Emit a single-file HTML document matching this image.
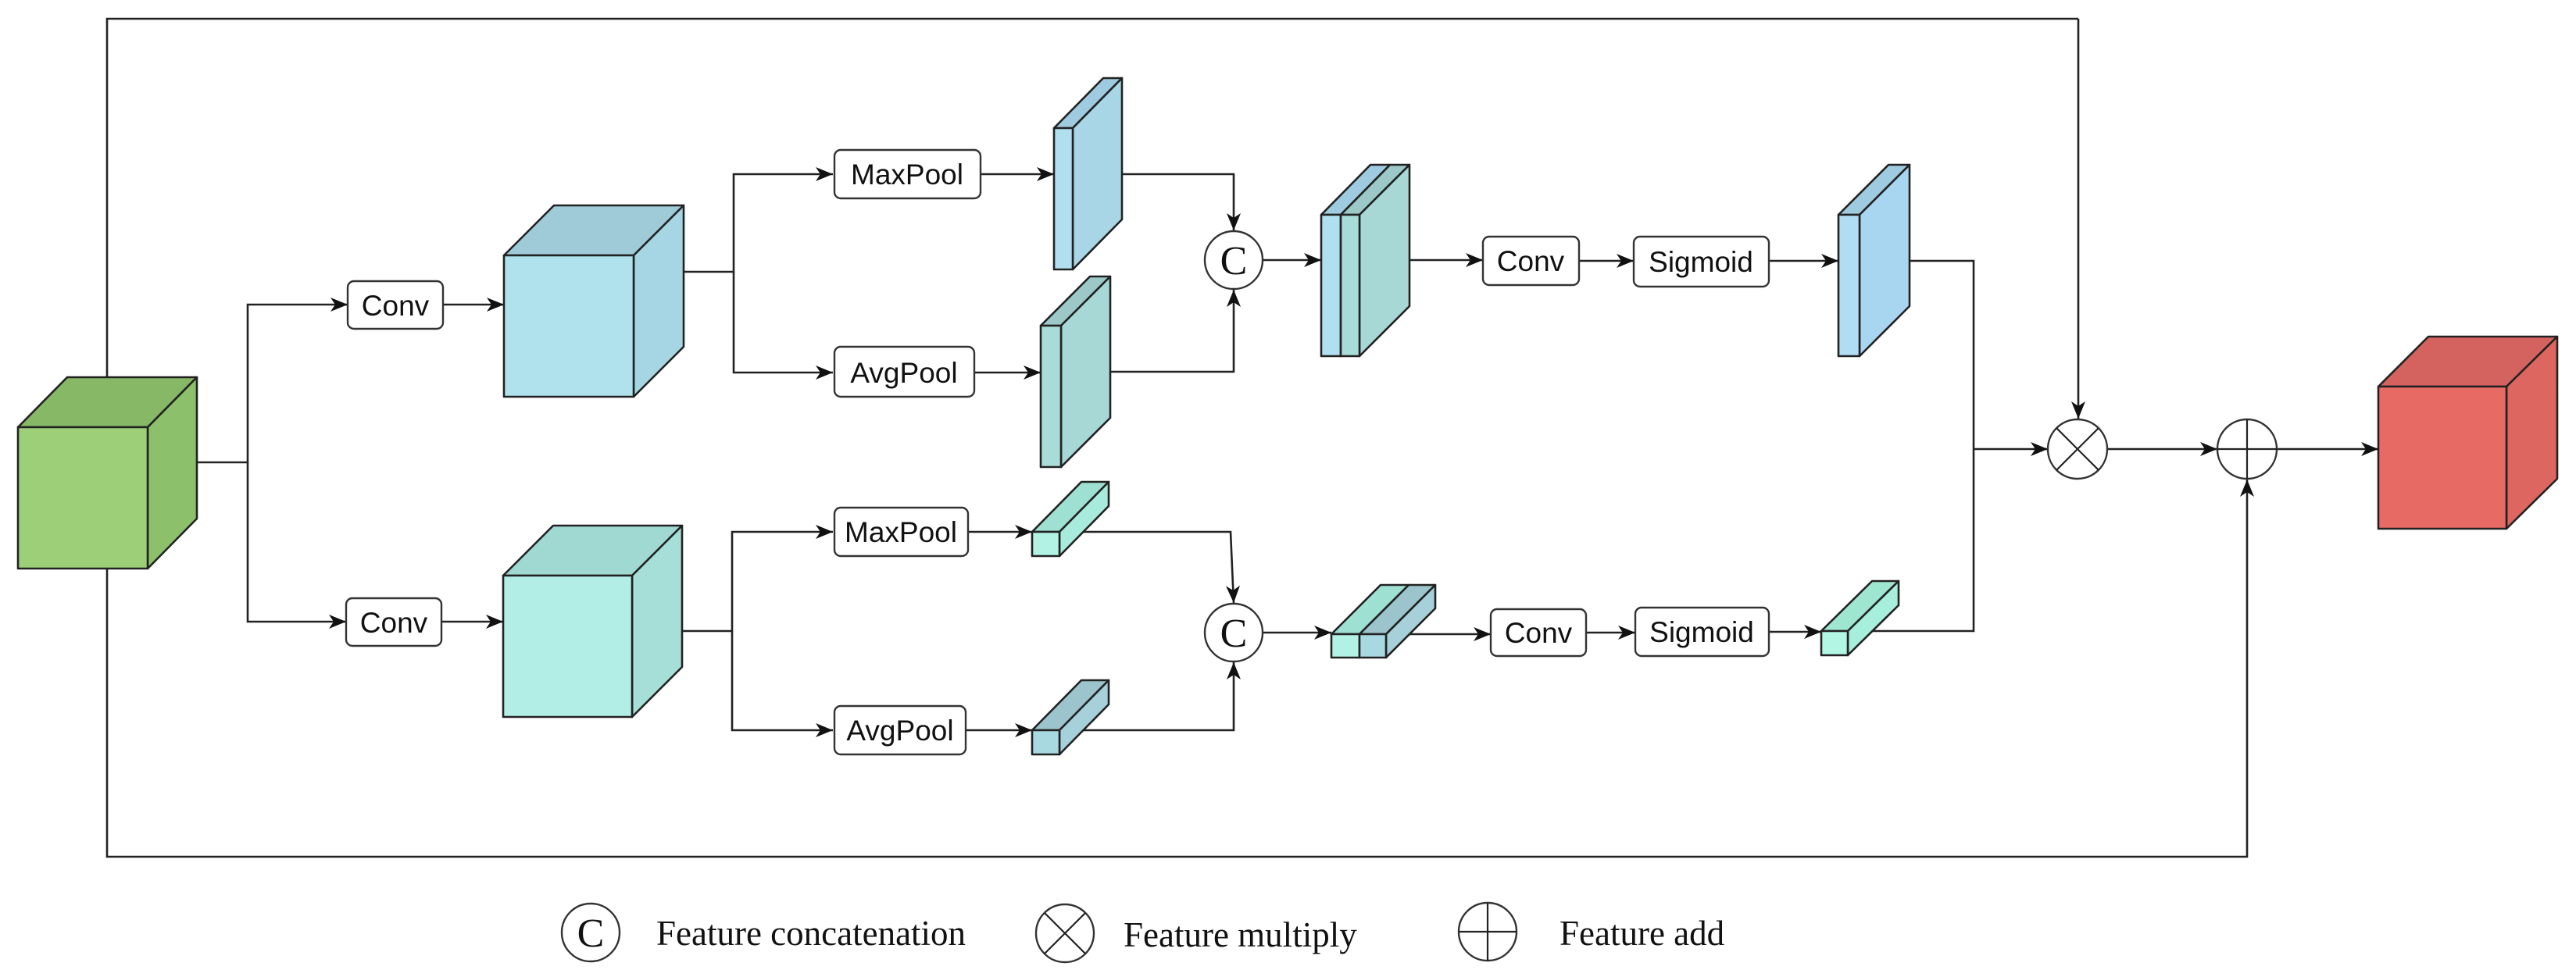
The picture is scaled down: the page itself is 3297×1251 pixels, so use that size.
<!DOCTYPE html>
<html><head><meta charset="utf-8"><style>
html,body{margin:0;padding:0;background:#fff;}
svg{display:block;}
.b{font-family:"Liberation Sans",sans-serif;font-size:37px;fill:#111;}
.l{font-family:"Liberation Serif",serif;font-size:45px;fill:#111;}
</style></head><body>
<svg width="3297" height="1251" viewBox="0 0 3297 1251" xmlns="http://www.w3.org/2000/svg">
<defs>
<marker id="a" markerUnits="userSpaceOnUse" markerWidth="24" markerHeight="20" refX="22" refY="10" orient="auto">
<path d="M0,1 L22,10 L0,19 L6,10 Z" fill="#111"/>
</marker>
</defs>
<g fill="none" stroke="#222" stroke-width="2.6">
<path d="M2660,24 L2660,536" marker-end="url(#a)"/>
<path d="M2660,24 L137,24 L137,547"/>
<path d="M137,728 L137,1097 L2876,1097 L2876,614" marker-end="url(#a)"/>
<path d="M252,592 H317 V390 H445" marker-end="url(#a)"/>
<path d="M317,592 V796 H443" marker-end="url(#a)"/>
<path d="M567,390 H645" marker-end="url(#a)"/>
<path d="M565,796 H644" marker-end="url(#a)"/>
<path d="M875,348 H939 V223 H1066" marker-end="url(#a)"/>
<path d="M939,348 V477 H1066" marker-end="url(#a)"/>
<path d="M873,808 H937 V681 H1066" marker-end="url(#a)"/>
<path d="M937,808 V935 H1066" marker-end="url(#a)"/>
<path d="M1255,223 H1349" marker-end="url(#a)"/>
<path d="M1247,477 H1332" marker-end="url(#a)"/>
<path d="M1420,223 H1579 V295" marker-end="url(#a)"/>
<path d="M1410,476 H1579 V371" marker-end="url(#a)"/>
<path d="M1616,333 H1691" marker-end="url(#a)"/>
<path d="M1790,333 H1898" marker-end="url(#a)"/>
<path d="M2021,334 H2091" marker-end="url(#a)"/>
<path d="M2264,334 H2353" marker-end="url(#a)"/>
<path d="M2430,334 H2526 V808 H2395"/>
<path d="M2526,575 H2621" marker-end="url(#a)"/>
<path d="M2698,575 H2838" marker-end="url(#a)"/>
<path d="M2915,575 H3044" marker-end="url(#a)"/>
<path d="M1239,681 H1321" marker-end="url(#a)"/>
<path d="M1370,681 H1575 L1579,772" marker-end="url(#a)"/>
<path d="M1236,935 H1321" marker-end="url(#a)"/>
<path d="M1370,935 H1579 V848" marker-end="url(#a)"/>
<path d="M1617,810 H1704" marker-end="url(#a)"/>
<path d="M1790,812 H1908" marker-end="url(#a)"/>
<path d="M2030,810 H2093" marker-end="url(#a)"/>
<path d="M2264,809 H2331" marker-end="url(#a)"/>
</g>
<g stroke="#222" stroke-width="2.6" stroke-linejoin="round">
<polygon points="23,547 86,483 252,483 189,547" fill="#86b866"/>
<polygon points="189,547 252,483 252,664 189,728" fill="#8cc06a"/>
<rect x="23" y="547" width="166" height="181" fill="#9ccf78"/>
<polygon points="645,327 709,263 875,263 811,327" fill="#9fcbd8"/>
<polygon points="811,327 875,263 875,444 811,508" fill="#a6d6e4"/>
<rect x="645" y="327" width="166" height="181" fill="#b0e2ee"/>
<polygon points="644,737 708,673 873,673 809,737" fill="#a0d8d2"/>
<polygon points="809,737 873,673 873,854 809,918" fill="#a6ded8"/>
<rect x="644" y="737" width="165" height="181" fill="#b2ede6"/>
<polygon points="3044,495 3108,431 3273,431 3208,495" fill="#d4625e"/>
<polygon points="3208,495 3273,431 3273,613 3208,677" fill="#de6660"/>
<rect x="3044" y="495" width="164" height="182" fill="#e86a64"/>
<polygon points="1349,164 1412,100 1436,100 1373,164" fill="#9fcbe0"/>
<polygon points="1373,164 1436,100 1436,281 1373,345" fill="#a8d6e6"/>
<rect x="1349" y="164" width="24" height="181" fill="#b0e0f0"/>
<polygon points="1332,417 1395,354 1421,354 1358,417" fill="#9cc8c8"/>
<polygon points="1358,417 1421,354 1421,535 1358,598" fill="#a8d8d6"/>
<rect x="1332" y="417" width="26" height="181" fill="#a8dcd8"/>
<polygon points="1691,275 1754,211 1779,211 1716,275" fill="#9fcbe0"/>
<rect x="1691" y="275" width="25" height="181" fill="#b0e0f0"/>
<polygon points="1716,275 1779,211 1804,211 1740,275" fill="#9cc8c8"/>
<polygon points="1740,275 1804,211 1804,392 1740,456" fill="#a8d8d6"/>
<rect x="1716" y="275" width="24" height="181" fill="#a8dcd8"/>
<polygon points="2353,275 2417,211 2444,211 2380,275" fill="#9fcbe0"/>
<polygon points="2380,275 2444,211 2444,392 2380,456" fill="#a8d6f0"/>
<rect x="2353" y="275" width="27" height="181" fill="#b0dcf4"/>
<polygon points="1321,681 1384,617 1419,617 1356,681" fill="#9ee0d2"/>
<polygon points="1356,681 1419,617 1419,648 1356,712" fill="#a8eadc"/>
<rect x="1321" y="681" width="35" height="31" fill="#b2f2e4"/>
<polygon points="1321,935 1384,871 1419,871 1356,935" fill="#9cc4cc"/>
<polygon points="1356,935 1419,871 1419,902 1356,966" fill="#a6d0da"/>
<rect x="1321" y="935" width="35" height="31" fill="#a8d8e0"/>
<polygon points="1704,812 1767,749 1803,749 1740,812" fill="#9ee0d2"/>
<rect x="1704" y="812" width="36" height="30" fill="#b2f2e4"/>
<polygon points="1740,812 1803,749 1837,749 1774,812" fill="#9cc4cc"/>
<polygon points="1774,812 1837,749 1837,779 1774,842" fill="#a6d0da"/>
<rect x="1740" y="812" width="34" height="30" fill="#a8d8e0"/>
<polygon points="2331,808 2396,744 2430,744 2365,808" fill="#9ee6d0"/>
<polygon points="2365,808 2430,744 2430,775 2365,839" fill="#a8eedc"/>
<rect x="2331" y="808" width="34" height="31" fill="#b2f6e4"/>
</g>
<g fill="#fff" stroke="#333" stroke-width="2.4">
<rect x="445" y="360" width="122" height="61" rx="8"/>
<rect x="443" y="766" width="122" height="61" rx="8"/>
<rect x="1068" y="192" width="187" height="62" rx="8"/>
<rect x="1068" y="444" width="179" height="64" rx="8"/>
<rect x="1068" y="650" width="171" height="62" rx="8"/>
<rect x="1068" y="904" width="168" height="62" rx="8"/>
<rect x="1898" y="303" width="123" height="62" rx="8"/>
<rect x="1908" y="780" width="122" height="60" rx="8"/>
<rect x="2091" y="303" width="173" height="64" rx="8"/>
<rect x="2093" y="778" width="171" height="62" rx="8"/>
<circle cx="1579" cy="333" r="37"/>
<circle cx="1579" cy="810" r="37"/>
<circle cx="2659" cy="575" r="38"/>
<circle cx="2876" cy="575" r="38"/>
<circle cx="756" cy="1194" r="37"/>
<circle cx="1363" cy="1195" r="37"/>
<circle cx="1904" cy="1193" r="37"/>
</g>
<g stroke="#222" stroke-width="2.2">
<path d="M2632,548 L2686,602 M2686,548 L2632,602"/>
<path d="M2838,575 H2914 M2876,537 V613"/>
<path d="M1337,1169 L1389,1221 M1389,1169 L1337,1221"/>
<path d="M1867,1193 H1941 M1904,1156 V1230"/>
</g>
<g class="b" text-anchor="middle">
<text x="506" y="404">Conv</text>
<text x="504" y="810">Conv</text>
<text x="1161" y="236">MaxPool</text>
<text x="1157" y="490">AvgPool</text>
<text x="1153" y="694">MaxPool</text>
<text x="1152" y="948">AvgPool</text>
<text x="1959" y="347">Conv</text>
<text x="1969" y="823">Conv</text>
<text x="2177" y="348">Sigmoid</text>
<text x="2178" y="822">Sigmoid</text>
</g>
<g font-family="Liberation Serif,serif" font-size="52" fill="#111" text-anchor="middle">
<text x="1579" y="351">C</text>
<text x="1579" y="828">C</text>
<text x="756" y="1212">C</text>
</g>
<text class="l" x="840" y="1210">Feature concatenation</text>
<text class="l" x="1438" y="1212">Feature multiply</text>
<text class="l" x="1996" y="1210">Feature add</text>
</svg>
</body></html>
